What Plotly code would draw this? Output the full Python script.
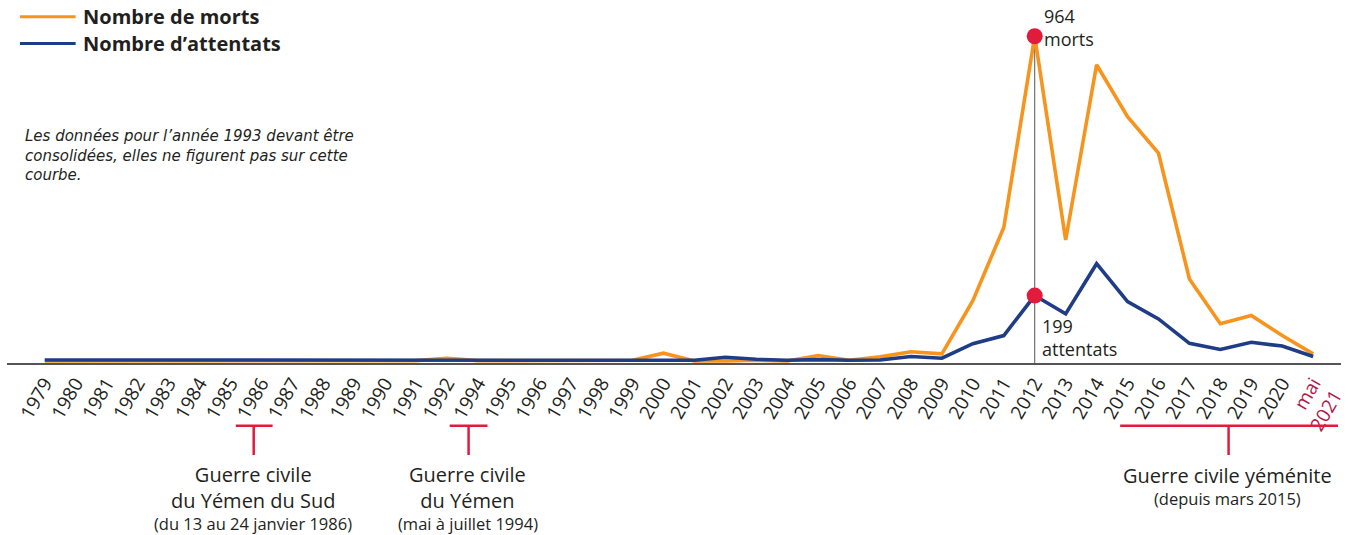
import plotly.graph_objects as go

# Années disponibles (1993 absente : données en cours de consolidation)
annees = [1979, 1980, 1981, 1982, 1983, 1984, 1985, 1986, 1987, 1988, 1989, 1990, 1991, 1992,
          1994, 1995, 1996, 1997, 1998, 1999, 2000, 2001, 2002, 2003, 2004, 2005, 2006, 2007,
          2008, 2009, 2010, 2011, 2012, 2013, 2014, 2015, 2016, 2017, 2018, 2019, 2020, 2021]

libelles = [str(a) for a in annees[:-1]] + ["<span style='color:#b3174a'>mai<br>2021</span>"]

morts = [6, 6, 6, 6, 6, 6, 6, 6, 6, 6, 6, 6, 7, 14,
         7, 7, 7, 7, 8, 8, 29, 6, 6, 8, 6, 22, 8, 18,
         33, 27, 184, 400, 964, 363, 880, 727, 619, 248, 116, 140, 81, 27]

attentats = [9, 9, 9, 9, 9, 9, 9, 9, 9, 9, 9, 9, 9, 10,
             9, 9, 9, 9, 10, 10, 10, 8, 17, 11, 8, 10, 8, 9,
             19, 14, 57, 81, 199, 145, 293, 181, 130, 58, 40, 61, 50, 19]

ORANGE = "#f7941d"
BLEU = "#1f3d87"
ROUGE = "#e11b3c"
TEXTE = "#231f20"
POLICE = "Open Sans"

W, H = 1354, 535
ML, MR, MT, MB = 7, 6, 20, 172
PW, PH = W - ML - MR, H - MT - MB

cats = [str(a) for a in annees]


def px(x, y):
    """Position en pixels -> coordonnées papier."""
    return (x - ML) / PW, (H - MB - y) / PH


fig = go.Figure()

fig.add_trace(go.Scatter(x=cats, y=morts, mode="lines", name="Nombre de morts",
                         line=dict(color=ORANGE, width=3.6), hoverinfo="x+y"))
fig.add_trace(go.Scatter(x=cats, y=attentats, mode="lines", name="Nombre d’attentats",
                         line=dict(color=BLEU, width=3.6), hoverinfo="x+y"))

# Année du pic : 2012 (position d'index sur l'axe catégoriel)
i_pic = annees.index(2012)
fig.add_shape(type="line", x0=i_pic, x1=i_pic, y0=0, y1=morts[i_pic],
              xref="x", yref="y", line=dict(color="#555555", width=1), layer="below")
fig.add_trace(go.Scatter(x=[cats[i_pic], cats[i_pic]], y=[morts[i_pic], attentats[i_pic]],
                         mode="markers", marker=dict(color=ROUGE, size=16),
                         showlegend=False, hoverinfo="skip"))

fig.add_annotation(x=i_pic, y=morts[i_pic], xref="x", yref="y",
                   text=f"{morts[i_pic]}<br>morts", showarrow=False,
                   xanchor="left", yanchor="middle", xshift=7, yshift=9, align="left",
                   font=dict(family=POLICE, size=18, color=TEXTE))
fig.add_annotation(x=i_pic, y=attentats[i_pic], xref="x", yref="y",
                   text=f"{attentats[i_pic]}<br>attentats", showarrow=False,
                   xanchor="left", yanchor="top", xshift=5, yshift=-16, align="left",
                   font=dict(family=POLICE, size=18, color=TEXTE))

# Légende dessinée
for (yl, col, lab) in [(16.7, ORANGE, "Nombre de morts"), (43.5, BLEU, "Nombre d’attentats")]:
    x0, y0 = px(20, yl)
    x1, _ = px(76, yl)
    fig.add_shape(type="line", xref="paper", yref="paper", x0=x0, x1=x1, y0=y0, y1=y0,
                  line=dict(color=col, width=3))
    xt, yt = px(81, yl)
    fig.add_annotation(xref="paper", yref="paper", x=xt, y=yt, text=f"<b>{lab}</b>",
                       showarrow=False, xanchor="left", yanchor="middle",
                       font=dict(family=POLICE, size=20, color=TEXTE))

# Note
xn, yn = px(23, 125)
fig.add_annotation(xref="paper", yref="paper", x=xn, y=yn,
                   text="<i>Les données pour l’année 1993 devant être<br>"
                        "consolidées, elles ne figurent pas sur cette<br>courbe.</i>",
                   showarrow=False, xanchor="left", yanchor="top", align="left",
                   font=dict(family="DejaVu Sans", size=15, color=TEXTE))

# Repères des guerres civiles : barre, tige, titre et précision
reperes = [
    (237, 274, 255, "Guerre civile<br>du Yémen du Sud", 488, "(du 13 au 24 janvier 1986)", 523.5, 16.5),
    (452, 490, 471, "Guerre civile<br>du Yémen", 488, "(mai à juillet 1994)", 523.5, 16.5),
    (1126, 1345, 1235, "Guerre civile yéménite", 475, "(depuis mars 2015)", 498, 16.5),
]
for xa, xb, xc, titre, y_titre, sous, y_sous, t_sous in reperes:
    a0, yb = px(xa, 425.7)
    a1, _ = px(xb, 425.7)
    c, ys = px(xc, 455)
    fig.add_shape(type="line", xref="paper", yref="paper", x0=a0, x1=a1, y0=yb, y1=yb,
                  line=dict(color=ROUGE, width=2.5))
    fig.add_shape(type="line", xref="paper", yref="paper", x0=c, x1=c, y0=yb, y1=ys,
                  line=dict(color=ROUGE, width=2.5))
    xc_p, yt = px(xc - 1, y_titre)
    fig.add_annotation(xref="paper", yref="paper", x=xc_p, y=yt, text=titre,
                       showarrow=False, xanchor="center", yanchor="middle", borderpad=0,
                       font=dict(family=POLICE, size=20, color=TEXTE))
    _, ysp = px(xc, y_sous)
    fig.add_annotation(xref="paper", yref="paper", x=xc_p, y=ysp, text=sous,
                       showarrow=False, xanchor="center", yanchor="middle", borderpad=0,
                       font=dict(family=POLICE, size=t_sous, color=TEXTE))

fig.update_layout(
    width=W, height=H,
    margin=dict(l=ML, r=MR, t=MT, b=MB, pad=0),
    paper_bgcolor="white", plot_bgcolor="white",
    showlegend=False,
    xaxis=dict(type="category", range=[-1.22, 41.9], tickvals=cats, ticktext=libelles,
               tickangle=-60, showgrid=False, zeroline=False,
               showline=True, linecolor="#555555", linewidth=1.5,
               ticks="", tickfont=dict(family=POLICE, size=19, color=TEXTE)),
    yaxis=dict(range=[0, 1012], visible=False, showgrid=False, zeroline=False),
)

fig.write_html("out.html")
